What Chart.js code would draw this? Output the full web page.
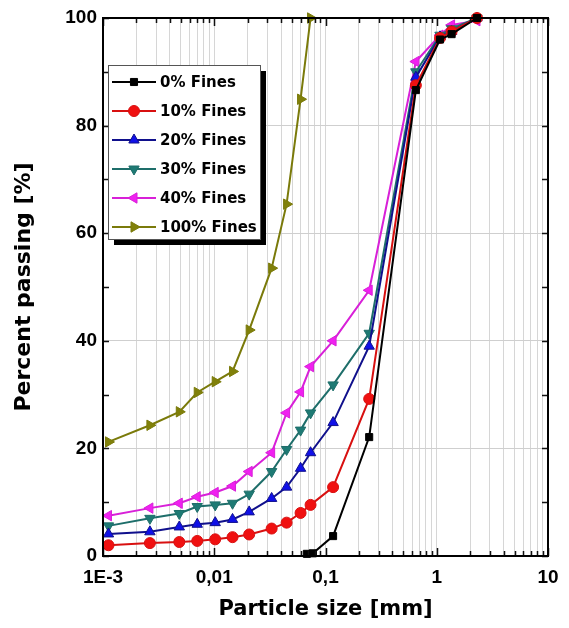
<!DOCTYPE html>
<html>
<head>
<meta charset="utf-8">
<script src="https://cdn.jsdelivr.net/npm/chart.js@4.4.1/dist/chart.umd.min.js"></script>
<style>
  html, body { margin: 0; padding: 0; background: #fff; }
  #wrap { width: 569px; height: 628px; position: relative; }
</style>
</head>
<body>
<div id="wrap"><canvas id="gradChart"></canvas></div>
<script>
// Tamaños de partícula (mm)
const sizesFine = [0.00112, 0.00264, 0.00485, 0.00703, 0.0102, 0.0146, 0.0206, 0.0328, 0.0447, 0.0597, 0.0734, 0.117, 0.247, 0.649, 1.07, 1.36, 2.3];
const sizesClean = [0.068, 0.077, 0.117, 0.247, 0.649, 1.07, 1.36, 2.3];

// Porcentaje que pasa por serie
const fines0 = [0.4, 0.5, 3.7, 22.1, 86.6, 96.0, 97.0, 100];
const fines10 = [2.0, 2.4, 2.6, 2.8, 3.1, 3.5, 4.0, 5.1, 6.2, 8.0, 9.5, 12.8, 29.2, 87.5, 96.3, 97.5, 100];
const fines20 = [4.1, 4.5, 5.4, 5.9, 6.2, 6.8, 8.2, 10.7, 12.8, 16.3, 19.2, 24.8, 39.0, 89.0, 96.5, 97.5, 100];
const fines30 = [5.6, 7.0, 7.9, 9.2, 9.5, 9.8, 11.5, 15.7, 19.8, 23.4, 26.6, 31.8, 41.4, 90.0, 96.8, 98.0, 100];
const fines40 = [7.5, 8.9, 9.8, 11.0, 11.8, 13.0, 15.7, 19.2, 26.6, 30.5, 35.2, 40.0, 49.4, 91.9, 96.8, 98.7, 99.5];
const fines100 = [21.2, 24.3, 26.8, 30.4, 32.4, 34.3, 42.0, 53.5, 65.4, 84.9, 100];

const seriesLabels = ['0% Fines', '10% Fines', '20% Fines', '30% Fines', '40% Fines', '100% Fines'];

// Ejes
const xMajor = [0.001, 0.01, 0.1, 1, 10];
const xTickLabels = ['1E-3', '0,01', '0,1', '1', '10'];
const yTicks = [0, 20, 40, 60, 80, 100];

const pair = (xs, ys) => ys.map((v, i) => ({ x: xs[i], y: v }));

function makeSet(label, xs, ys, line, fill, style, rot, r) {
  return {
    label: label,
    data: pair(xs, ys),
    borderColor: line,
    backgroundColor: fill,
    pointBackgroundColor: fill,
    pointBorderColor: line,
    pointBorderWidth: 1,
    pointStyle: style,
    pointRotation: rot,
    pointRadius: r,
    borderWidth: 2,
    tension: 0,
    clip: 8
  };
}

const datasets = [
  makeSet(seriesLabels[0], sizesClean, fines0, '#000000', '#000000', 'rect', 0, 5),
  makeSet(seriesLabels[1], sizesFine, fines10, '#d81010', '#f01010', 'circle', 0, 5.5),
  makeSet(seriesLabels[2], sizesFine, fines20, '#10108c', '#1010e8', 'triangle', 0, 6),
  makeSet(seriesLabels[3], sizesFine, fines30, '#1e6e6a', '#1e7a74', 'triangle', 180, 6),
  makeSet(seriesLabels[4], sizesFine, fines40, '#d820d8', '#f020f0', 'triangle', 270, 6),
  makeSet(seriesLabels[5], sizesFine, fines100, '#7a7a0a', '#80800a', 'triangle', 90, 6)
];

// Marco, ticks hacia adentro y leyenda dentro del área
const framePlugin = {
  id: 'frame',
  afterDatasetsDraw(chart) {
    const ctx = chart.ctx;
    const a = chart.chartArea;
    const xs = chart.scales.x, ys = chart.scales.y;
    ctx.save();
    ctx.strokeStyle = '#111';
    ctx.lineWidth = 1.5;
    xs.ticks.forEach(t => {
      const px = Math.round(xs.getPixelForValue(t.value)) + 0.5;
      const len = xMajor.includes(t.value) ? 8 : 5;
      ctx.beginPath();
      ctx.moveTo(px, a.bottom); ctx.lineTo(px, a.bottom - len);
      ctx.moveTo(px, a.top); ctx.lineTo(px, a.top + len);
      ctx.stroke();
    });
    ys.ticks.forEach(t => {
      const py = Math.round(ys.getPixelForValue(t.value)) + 0.5;
      ctx.beginPath();
      ctx.moveTo(a.left, py); ctx.lineTo(a.left + 6, py);
      ctx.moveTo(a.right, py); ctx.lineTo(a.right - 6, py);
      ctx.stroke();
    });
    ctx.lineWidth = 2;
    ctx.strokeStyle = '#000';
    ctx.strokeRect(a.left, a.top, a.right - a.left, a.bottom - a.top);
    ctx.restore();
  },
  afterDraw(chart) {
    const ctx = chart.ctx;
    const x0 = 108, y0 = 65, w = 152, h = 174;
    ctx.save();
    ctx.fillStyle = '#000';
    ctx.fillRect(x0 + 6, y0 + 6, w, h);
    ctx.fillStyle = '#fff';
    ctx.fillRect(x0, y0, w, h);
    ctx.strokeStyle = '#555';
    ctx.lineWidth = 1;
    ctx.strokeRect(x0 + 0.5, y0 + 0.5, w, h);
    ctx.font = 'bold 15px "DejaVu Sans"';
    ctx.textBaseline = 'middle';
    chart.data.datasets.forEach((ds, i) => {
      const cy = y0 + 17 + i * 29;
      ctx.strokeStyle = ds.borderColor;
      ctx.lineWidth = 2;
      ctx.beginPath();
      ctx.moveTo(x0 + 4, cy); ctx.lineTo(x0 + 48, cy);
      ctx.stroke();
      ctx.fillStyle = ds.pointBackgroundColor;
      ctx.strokeStyle = ds.pointBorderColor;
      ctx.lineWidth = 1;
      Chart.helpers.drawPoint(ctx, {
        pointStyle: ds.pointStyle, rotation: ds.pointRotation,
        radius: ds.pointRadius, borderWidth: 1
      }, x0 + 26, cy);
      ctx.fillStyle = '#000';
      ctx.fillText(ds.label, x0 + 52, cy + 1);
    });
    ctx.restore();
  }
};

const ctxGrad = document.getElementById('gradChart').getContext('2d');
const gradChart = new Chart(ctxGrad, {
  type: 'line',
  data: { datasets: datasets },
  options: {
    responsive: true,
    maintainAspectRatio: false,
    animation: false,
    layout: { padding: { top: 18, right: 21, left: 0, bottom: 0 } },
    plugins: {
      legend: { display: false },
      tooltip: { enabled: false }
    },
    scales: {
      x: {
        type: 'logarithmic',
        min: 0.001,
        max: 10,
        afterBuildTicks(scale) {
          const ticks = [];
          for (let e = -3; e < 1; e++) {
            for (let m = 1; m < 10; m++) ticks.push({ value: +(m * Math.pow(10, e)).toPrecision(3) });
          }
          ticks.push({ value: 10 });
          scale.ticks = ticks;
        },
        afterFit(scale) { scale.height = 72; },
        grid: { color: '#d6d6d6', lineWidth: 1, drawTicks: false },
        border: { display: false },
        ticks: {
          autoSkip: false,
          maxRotation: 0,
          padding: 10,
          color: '#000',
          font: { family: '"Liberation Sans", Arial', size: 19, weight: 'bold' },
          callback: (v) => {
            const k = xMajor.indexOf(v);
            return k >= 0 ? xTickLabels[k] : '';
          }
        },
        title: {
          display: true,
          text: 'Particle size [mm]',
          color: '#000',
          font: { family: '"DejaVu Sans"', size: 21, weight: 'bold' },
          padding: { top: 0, bottom: 6 }
        }
      },
      y: {
        min: 0,
        max: 100,
        afterFit(scale) { scale.width = 103; },
        ticks: {
          stepSize: 10,
          padding: 6,
          color: '#000',
          font: { family: '"Liberation Sans", Arial', size: 19, weight: 'bold' },
          callback: (v) => yTicks.includes(v) ? String(v) : ''
        },
        grid: {
          drawTicks: false,
          color: (c) => (c.tick && yTicks.includes(c.tick.value) ? '#cfcfcf' : 'rgba(0,0,0,0)')
        },
        border: { display: false },
        title: {
          display: true,
          text: 'Percent passing [%]',
          color: '#000',
          font: { family: '"DejaVu Sans"', size: 22, weight: 'bold' },
          padding: { top: 11, bottom: 0 }
        }
      }
    }
  },
  plugins: [framePlugin]
});
</script>
</body>
</html>
